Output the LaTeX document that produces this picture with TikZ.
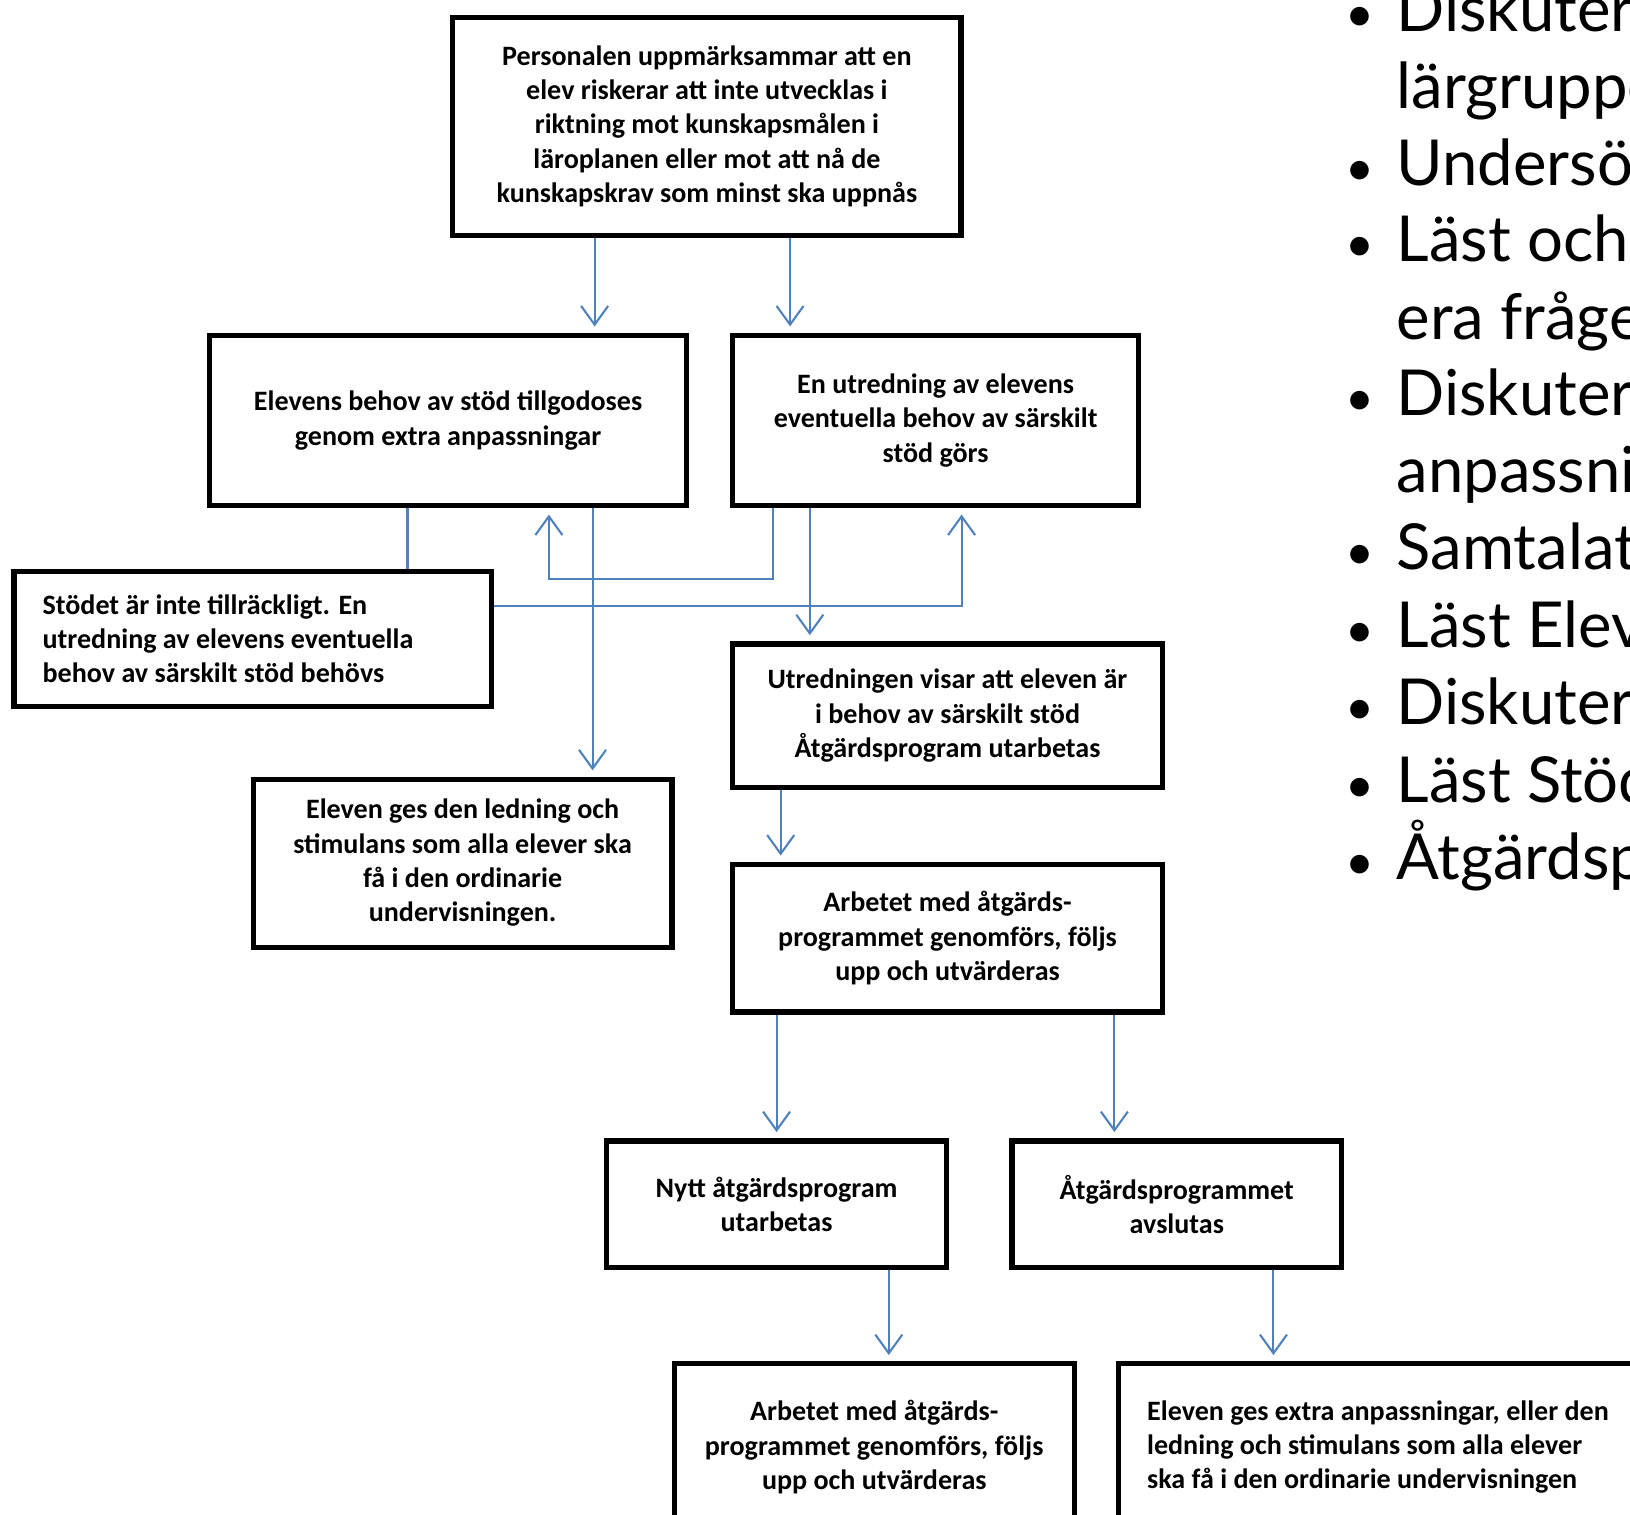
\documentclass[tikz,border=0pt]{standalone}
\usepackage{fontspec}
\setmainfont{Carlito}
\newfontfamily\listfont{Lato}
\usetikzlibrary{arrows.meta,calc,positioning}
\definecolor{flowblue}{RGB}{79,129,189}

\begin{document}
\begin{tikzpicture}[x=0.5pt,y=-0.5pt,
  box/.style={draw=black,line width=2.5pt,fill=white,align=center,inner sep=0pt,
    font=\bfseries\fontsize{13.5}{16.5}\selectfont},
  flow/.style={draw=flowblue,line width=1pt,-{Straight Barb[length=9pt,width=13pt]},shorten >=3pt},
  link/.style={draw=flowblue,line width=1pt},
  item/.style={anchor=base west,inner sep=0pt,font=\listfont\fontsize{30.5}{37}\selectfont},
  dot/.style={anchor=base,inner sep=0pt,font=\listfont\fontsize{24}{37}\selectfont}]
\useasboundingbox (0,0) rectangle (1568,1457);
\clip (0,0) rectangle (1568,1457);
%%% boxes
\node[box,minimum width=244.5pt,minimum height=105pt] (start) at (680,121.5)
  {Personalen uppmärksammar att en\\elev riskerar att inte utvecklas i\\riktning mot kunskapsmålen i\\läroplanen eller mot att nå de\\kunskapskrav som minst ska uppnås};
\node[box,minimum width=229.5pt,minimum height=82pt] (extra) at (431,404.5)
  {Elevens behov av stöd tillgodoses\\genom extra anpassningar};
\node[box,minimum width=195.5pt,minimum height=82pt] (utr) at (900,404.5)
  {En utredning av elevens\\eventuella behov av särskilt\\stöd görs};
\node[box,align=flush left,text width=202pt,inner xsep=13.75pt,minimum height=65pt] (inte) at (243,614.5)
  {Stödet är inte tillräckligt. En\\utredning av elevens eventuella\\behov av särskilt stöd behövs};
\node[box,minimum width=207pt,minimum height=69pt] (atg) at (911.5,688.5)
  {Utredningen visar att eleven är\\i behov av särskilt stöd\\Åtgärdsprogram utarbetas};
\node[box,minimum width=201.5pt,minimum height=81pt] (ledn) at (445,830.5)
  {\raisebox{-3pt}{\begin{tabular}{@{}c@{}}Eleven ges den ledning och\\stimulans som alla elever ska\\få i den ordinarie\\undervisningen.\end{tabular}}};
\node[box,minimum width=207pt,minimum height=71pt] (arb) at (911.5,902.5)
  {Arbetet med åtgärds-\\programmet genomförs, följs\\upp och utvärderas};
\node[box,minimum width=163.5pt,minimum height=61pt] (nytt) at (747,1158.5)
  {Nytt åtgärdsprogram\\utarbetas};
\node[box,minimum width=158.5pt,minimum height=61pt] (avsl) at (1132,1158.5)
  {Åtgärdsprogrammet\\avslutas};
\node[box,anchor=north,minimum width=192.5pt,minimum height=80pt] (arb2) at (841,1309.5)
  {Arbetet med åtgärds-\\programmet genomförs, följs\\upp och utvärderas};
\node[box,anchor=north west,align=flush left,text width=262pt,inner xsep=13.75pt,minimum height=80pt] (ord) at (1073.5,1309.5)
  {Eleven ges extra anpassningar, eller den\\ledning och stimulans som alla elever\\ska få i den ordinarie undervisningen};
%% connectors
\draw[flow] (start.south -| 572,0) -- (extra.north -| 572,0);
\draw[flow] (start.south -| 760,0) -- (utr.north -| 760,0);
\draw[link] (extra.south -| 392,0) -- (inte.north -| 392,0);
\draw[flow] (utr.south -| 744,0) -- (744,557) -| (extra.south -| 528,0);
\draw[flow] (inte.east |- 0,583) -| (utr.south -| 925,0);
\draw[flow] (extra.south -| 570,0) -- (ledn.north -| 570,0);
\draw[flow] (utr.south -| 779,0) -- (atg.north -| 779,0);
\draw[flow] (atg.south -| 751,0) -- (arb.north -| 751,0);
\draw[flow] (arb.south -| 747,0) -- (nytt.north -| 747,0);
\draw[flow] (arb.south -| 1072,0) -- (avsl.north -| 1072,0);
\draw[flow] (nytt.south -| 855,0) -- (arb2.north -| 855,0);
\draw[flow] (avsl.south -| 1225,0) -- (ord.north -| 1225,0);
%%% list on the right
\foreach \yy/\txt in {30/Diskuter,104/lärgruppe,178/Undersö,252/Läst och,327/era fråge,
    400/Diskuter,474/anpassnin,548/Samtalat,623/Läst Elev,697/Diskuter,772/Läst Stöd,846/Åtgärdsp}
  \node[item] at (1343,\yy) {\txt};
\foreach \yy in {30,178,252,400,548,623,697,772,846}
  \node[dot] at (1308,\yy) {•};
\end{tikzpicture}
\end{document}
